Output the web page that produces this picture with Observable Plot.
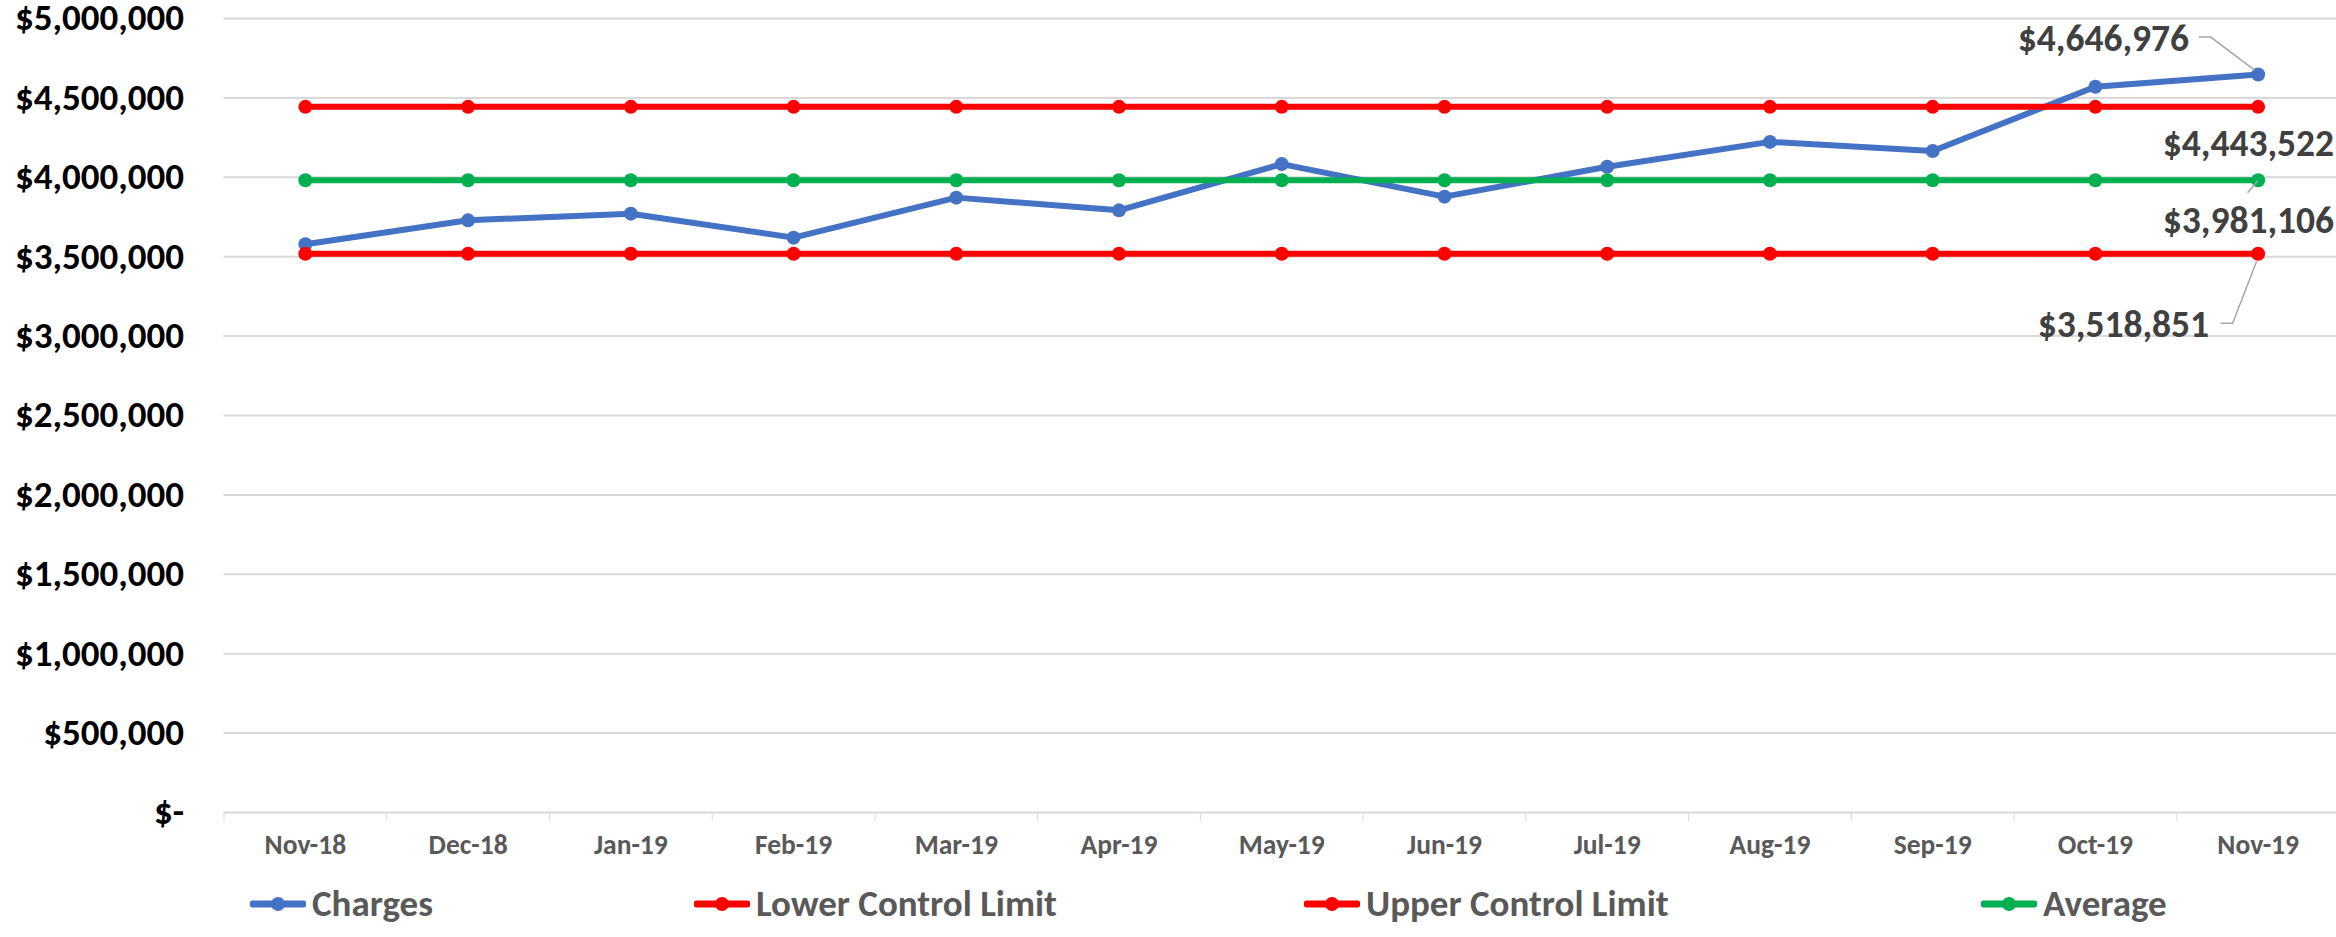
<!DOCTYPE html>
<html><head><meta charset="utf-8">
<script src="https://cdn.jsdelivr.net/npm/d3@7"></script>
<script src="https://cdn.jsdelivr.net/npm/@observablehq/plot@0.6"></script>
<style>
html,body{margin:0;padding:0;background:#fff;}
body{width:2336px;height:937px;overflow:hidden;font-family:Carlito,Calibri,Lato,sans-serif;}
#chart svg{display:block;overflow:visible;}
#chart g[aria-label^="x-axis"]{color:#d9d9d9;}
#legend{position:relative;height:67px;width:2336px;}
.item{position:absolute;top:0;height:67px;display:flex;align-items:center;font-weight:bold;font-size:37px;color:#595959;white-space:nowrap;}
.item svg{margin-right:6px;}
</style></head><body>
<div id="chart"></div><div id="legend"></div>
<script>
const months = ["Nov-18","Dec-18","Jan-19","Feb-19","Mar-19","Apr-19","May-19","Jun-19","Jul-19","Aug-19","Sep-19","Oct-19","Nov-19"];
const charges = [3578000,3729000,3771000,3620000,3872000,3792000,4083000,3878000,4066000,4223000,4166000,4570000,4646976];
const lowerControlLimit = [3518851,3518851,3518851,3518851,3518851,3518851,3518851,3518851,3518851,3518851,3518851,3518851,3518851];
const upperControlLimit = [4443522,4443522,4443522,4443522,4443522,4443522,4443522,4443522,4443522,4443522,4443522,4443522,4443522];
const average = [3981106,3981106,3981106,3981106,3981106,3981106,3981106,3981106,3981106,3981106,3981106,3981106,3981106];
const seriesNames = ["Charges","Lower Control Limit","Upper Control Limit","Average"];
const yTicks = [0,500000,1000000,1500000,2000000,2500000,3000000,3500000,4000000,4500000,5000000];

// styles
const seriesColors = {"Charges":"#4472C4","Lower Control Limit":"#FF0000","Upper Control Limit":"#FF0000","Average":"#00B050"};
const seriesValues = {"Charges":charges,"Lower Control Limit":lowerControlLimit,"Upper Control Limit":upperControlLimit,"Average":average};
const labelPlacements = [
  {series:"Charges", anchor:"end", dx:-69, dy:-36, leader:[[-59,-37],[-47,-37],[-3,-4]]},
  {series:"Upper Control Limit", anchor:"end", dx:76, dy:37, leader:null},
  {series:"Average", anchor:"end", dx:76, dy:41, leader:[[-10,13],[0,1]]},
  {series:"Lower Control Limit", anchor:"end", dx:-49, dy:71, leader:[[-37,70],[-25,70],[-1,8]]}
];

const money = v => v === 0 ? "$-" : "$" + d3.format(",")(v);
const rows = s => seriesValues[s].map((v,i) => ({series:s, pos:i+0.5, value:v, month:months[i]}));
const boundaries = d3.range(months.length + 1);

const marks = [
  Plot.ruleY(yTicks, {stroke:"#d9d9d9", strokeWidth:2})
];
for (const s of seriesNames) {
  marks.push(Plot.line(rows(s), {x:"pos", y:"value", stroke:seriesColors[s], strokeWidth:6}));
  marks.push(Plot.dot(rows(s), {x:"pos", y:"value", r:7, fill:seriesColors[s]}));
}
marks.push(Plot.text(months.map((m,i)=>({m, pos:i+0.5})), {x:"pos", y:() => 0, text:"m", dy:33, fill:"#595959", fontSize:27.5, fontWeight:"bold"}));
for (const p of labelPlacements) {
  const r = rows(p.series);
  const last = r[r.length-1];
  marks.push(Plot.text([last], {x:"pos", y:"value", text:d => money(d.value), dx:p.dx, dy:p.dy, textAnchor:p.anchor, fill:"#404040", fontSize:37.5, fontWeight:"bold"}));
}

const chart = Plot.plot({
  width:2336, height:870,
  marginLeft:223.5, marginRight:0, marginTop:18, marginBottom:58,
  style:{fontFamily:"Carlito, Calibri, Lato, sans-serif", fontSize:"37px", fontWeight:"bold", color:"#000", background:"#fff"},
  x:{type:"linear", domain:[0, months.length], range:[223.5, 2339], ticks:boundaries, tickFormat:() => "", tickSize:9, label:null},
  y:{domain:[0,5000000], ticks:yTicks, tickFormat:money, tickSize:0, tickPadding:40, label:null},
  marks
});
document.getElementById("chart").appendChild(chart);

// leader lines from data points to their labels
const xs = chart.scale("x"), ys = chart.scale("y");
const X = d3.scaleLinear().domain(xs.domain).range(xs.range);
const Y = d3.scaleLinear().domain(ys.domain).range(ys.range);
const g = d3.select(chart).append("g").attr("aria-label","leaders");
for (const p of labelPlacements) {
  if (!p.leader) continue;
  const r = rows(p.series); const last = r[r.length-1];
  const px = X(last.pos), py = Y(last.value);
  g.append("polyline").attr("points", p.leader.map(([a,b]) => `${px+a},${py+b}`).join(" "))
    .attr("fill","none").attr("stroke","#a6a6a6").attr("stroke-width",1.5);
}

// legend
const legendLefts = {"Charges":250,"Lower Control Limit":694,"Upper Control Limit":1304,"Average":1981};
const legend = document.getElementById("legend");
for (const s of seriesNames) {
  const item = document.createElement("div");
  item.className = "item";
  item.style.left = legendLefts[s] + "px";
  item.innerHTML = `<svg width="56" height="20"><line x1="3" y1="10" x2="53" y2="10" stroke="${seriesColors[s]}" stroke-width="7" stroke-linecap="round"/><circle cx="28" cy="10" r="7" fill="${seriesColors[s]}"/></svg><span>${s}</span>`;
  legend.appendChild(item);
}
</script>
</body></html>
